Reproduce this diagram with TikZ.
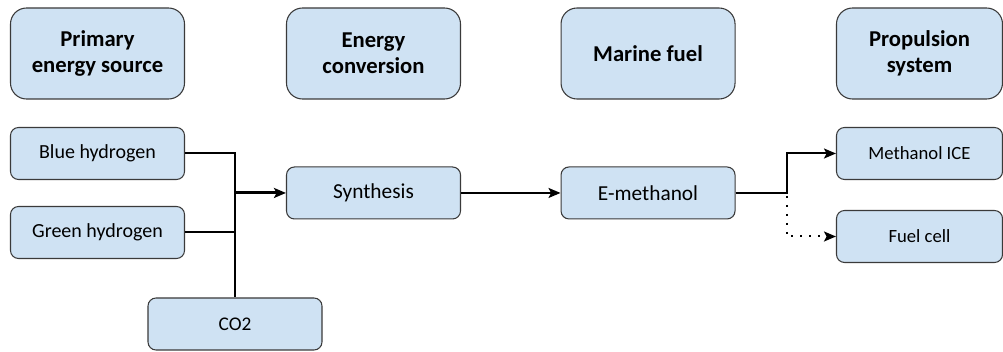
\documentclass[tikz,border=0pt]{standalone}
\usepackage{fontspec}
\setmainfont{Carlito}
\usetikzlibrary{arrows.meta}
\definecolor{boxblue}{HTML}{CFE2F3}
\definecolor{boxline}{HTML}{3A3A3A}

\begin{document}
\begin{tikzpicture}[
  x=0.75pt, y=-0.75pt,
  box/.style={rectangle, draw=boxline, line width=0.8pt, fill=boxblue, rounded corners=6pt, minimum width=130.5pt, minimum height=39pt, inner sep=0pt, font=\fontsize{15}{18}\selectfont},
  head/.style={box, rounded corners=12pt, minimum height=68.25pt, align=center, font=\bfseries\fontsize{17}{19.5}\selectfont},
  line/.style={-{Stealth[length=9pt,width=7.5pt,inset=2pt]}, line width=1.5pt, draw=black},
  feedline/.style={line width=1.5pt, draw=black}
]
\useasboundingbox (0,0) rectangle (1003,352);

% column headings
\node[head] (primary) at (97.5,53.5) {Primary\\energy source};
\node[head, right of=primary, node distance=207pt] (conversion) {Energy\\conversion};
\node[head, right of=conversion, node distance=205.9pt] (marine) {Marine fuel};
\node[head, right of=marine, node distance=203.6pt, minimum width=124.5pt] (propulsion) {Propulsion\\system};

% process boxes
\node[box, at={(235,324)}, font=\fontsize{14.5}{17}\selectfont] (co2) {CO2};
\node[box, below of=primary, node distance=75pt] (blue) {Blue hydrogen};
\node[box, below of=blue, node distance=59.25pt] (green) {Green hydrogen};
\node[box, below of=conversion, node distance=104.6pt, font=\fontsize{16}{19}\selectfont] (synthesis) {Synthesis};
\node[box, below of=marine, node distance=104.6pt, font=\fontsize{16}{19}\selectfont] (emethanol) {E-methanol};
\node[box, below of=propulsion, node distance=75pt, minimum width=124.5pt, font=\fontsize{14}{17}\selectfont] (ice) {Methanol ICE};
\node[box, below of=ice, node distance=62.25pt, minimum width=124.5pt, font=\fontsize{14}{17}\selectfont] (fuelcell) {Fuel cell};

% Arrows
\coordinate (hub) at (co2.north |- synthesis.west);
\path (emethanol.east) ++(51,0) coordinate (split);
\draw [feedline] (blue.east) -| (co2.north);
\draw [feedline] (green.east) -- (green.east -| co2.north);
\draw [line, line width=2.2pt] (hub) -- (synthesis);
\draw [line] (synthesis) -- (emethanol);
\draw [line] (emethanol.east) -- (split) |- (ice.west);
\draw [line, dash pattern=on 1.5pt off 5.25pt] (emethanol.east) -- (split) |- (fuelcell.west);

\end{tikzpicture}
\end{document}
